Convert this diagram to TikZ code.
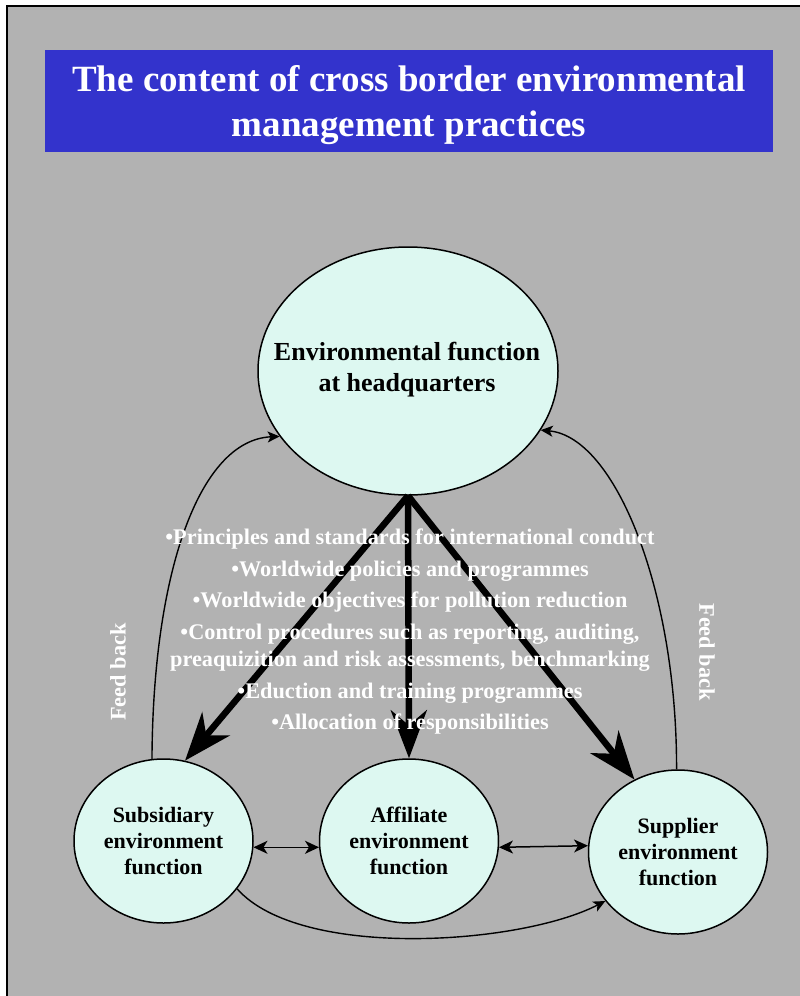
\documentclass[tikz,border=0pt]{standalone}
\usepackage{fontspec}
\setmainfont{Liberation Serif}
\usetikzlibrary{arrows.meta,shapes.geometric}
\definecolor{bggray}{RGB}{178,178,178}
\definecolor{titleblue}{RGB}{51,51,204}
\definecolor{cyanfill}{RGB}{221,248,241}
\begin{document}
\begin{tikzpicture}[x=1pt,y=-1pt,
  bubble/.style={ellipse, draw=black, line width=1.5pt, fill=cyanfill, inner sep=0pt, align=center, minimum width=179pt, minimum height=164pt, font=\bfseries\fontsize{22}{26}\selectfont},
  bigarrow/.style={line width=6.5pt, -{Stealth[length=48pt,width=36pt,inset=15pt]}},
  thinarrow/.style={line width=1.4pt, -{Stealth[length=12pt,width=11pt,inset=3pt]}},
  dblarrow/.style={line width=1.5pt, {Stealth[length=14pt,width=13pt,inset=4pt]}-{Stealth[length=14pt,width=13pt,inset=4pt]}},
  whitetext/.style={text=white, font=\bfseries\fontsize{22.3}{31.5}\selectfont, align=center, inner sep=0pt}
]
\useasboundingbox (0,0) rectangle (800,996);
\fill[white] (0,0) rectangle (800,996);
\fill[bggray] (7,6) rectangle (800,996);
\draw[line width=2pt] (7,996) -- (7,6) -- (800,6);

% title
\node[fill=titleblue, minimum width=728pt, minimum height=102pt, inner sep=0pt] (title) at (409,101) {};
\node[text=white, font=\bfseries\fontsize{37}{45}\selectfont, align=center, inner sep=0pt] (titletext) at (409,105)
  {The content of cross border environmental\\management practices};

% nodes
\node[ellipse, draw=black, line width=1.5pt, fill=cyanfill, minimum width=300pt, minimum height=248pt, inner sep=0pt] (hq) at (408,371) {};
\node[font=\bfseries\fontsize{26}{31}\selectfont, align=center, inner sep=0pt] (hqtext) at (407,370)
  {Environmental function\\at headquarters};
\node[bubble] (sub) at (163.5,841) {Subsidiary\\environment\\function};
\node[bubble] (aff) at (409,841) {Affiliate\\environment\\function};
\node[bubble] (sup) at (678,852) {Supplier\\environment\\function};

% thick arrows
\draw[bigarrow] (hq.south) -- (sub.75);
\draw[bigarrow] (hq.south) -- (aff.north);
\draw[bigarrow] (hq.south) -- (sup.121);

% feedback curves
\draw[thinarrow] (sub.98) .. controls (153,570) and (200,440) .. (hq.207);
\draw[thinarrow] (sup.91) .. controls (677,590) and (615,437) .. (hq.-24);

% horizontal double arrows
\draw[dblarrow] (sub.-4) -- (aff.184);
\draw[dblarrow] (aff.-4) -- (sup.176);

% bottom curve
\draw[thinarrow] (sub.-33) .. controls (300,960) and (520,945) .. (sup.214);

% list text
\node[whitetext] (list) at (410,632)
  {•Principles and standards for international conduct\\
   •Worldwide policies and programmes\\
   •Worldwide objectives for pollution reduction\\
   •Control procedures such as reporting, auditing,\\[-4pt]
   preaquizition and risk assessments, benchmarking\\
   •Eduction and training programmes\\
   •Allocation of responsibilities};

% feed back labels
\node[whitetext, rotate=90] (fbl) at (118,672) {Feed back};
\node[whitetext, rotate=-90] (fbr) at (707,652) {Feed back};
\end{tikzpicture}
\end{document}
